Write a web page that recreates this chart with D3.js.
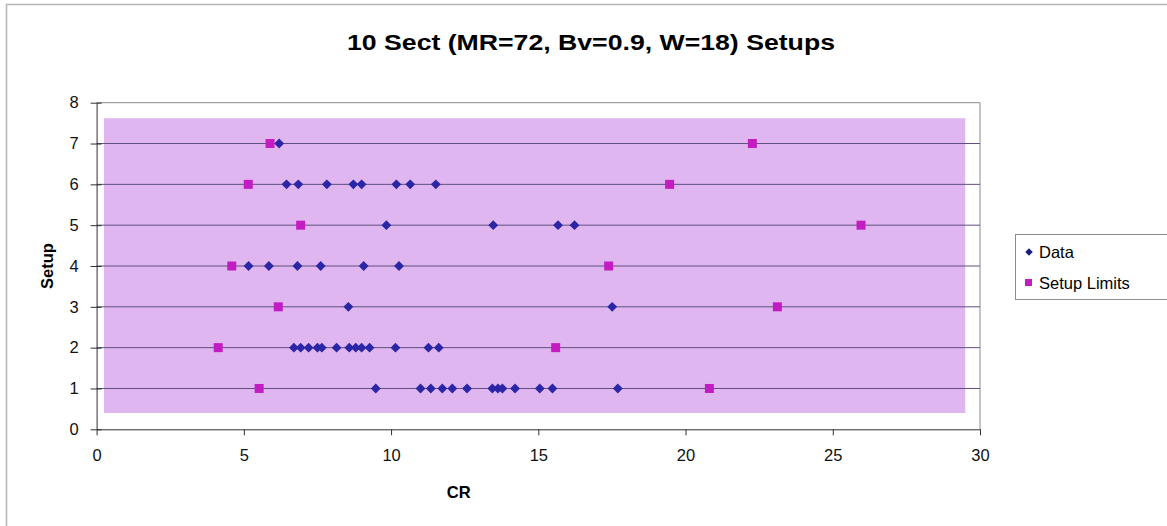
<!DOCTYPE html>
<html>
<head>
<meta charset="utf-8">
<script src="https://cdn.jsdelivr.net/npm/d3@7"></script>
<style>
  html, body { margin: 0; padding: 0; background: #ffffff; }
  svg { display: block; font-family: "Liberation Sans", Arial, sans-serif; }
</style>
</head>
<body>
<svg id="chart" width="1167" height="526"></svg>
<script>
// Setup number for each group of readings
const setups = [1, 2, 3, 4, 5, 6, 7];

// CR readings per setup ("Data")
const dataSetup1 = [9.48, 11.0, 11.35, 11.74, 12.08, 12.58, 13.44, 13.63, 13.78, 14.21, 15.05, 15.48, 17.7];
const dataSetup2 = [6.7, 6.93, 7.2, 7.5, 7.65, 8.15, 8.58, 8.8, 9.0, 9.27, 10.15, 11.27, 11.62];
const dataSetup3 = [8.55, 17.51];
const dataSetup4 = [5.16, 5.85, 6.82, 7.61, 9.07, 10.27];
const dataSetup5 = [9.84, 13.47, 15.67, 16.23];
const dataSetup6 = [6.45, 6.85, 7.82, 8.72, 9.0, 10.18, 10.65, 11.52];
const dataSetup7 = [6.2];

// Lower and upper CR limits per setup ("Setup Limits")
const limitLow  = [5.52, 4.13, 6.17, 4.59, 6.93, 5.15, 5.89];
const limitHigh = [20.81, 15.59, 23.12, 17.39, 25.96, 19.46, 22.27];

const xTicks = [0, 5, 10, 15, 20, 25, 30];
const yTicks = [0, 1, 2, 3, 4, 5, 6, 7, 8];

const titleText = "10 Sect (MR=72, Bv=0.9, W=18) Setups";
const xLabel = "CR";
const yLabel = "Setup";
const seriesNames = ["Data", "Setup Limits"];

const dataBySetup = [dataSetup1, dataSetup2, dataSetup3, dataSetup4, dataSetup5, dataSetup6, dataSetup7];
const dataPoints = setups.flatMap((s, i) => dataBySetup[i].map(v => ({ x: v, y: s })));
const limitPoints = setups.flatMap((s, i) => [{ x: limitLow[i], y: s }, { x: limitHigh[i], y: s }]);

const svg = d3.select("#chart");
const W = 1167, H = 526;
const plot = { left: 96.6, right: 980, top: 102.7, bottom: 429.3 };

const x = d3.scaleLinear().domain([0, 30]).range([plot.left, plot.right]);
const y = d3.scaleLinear().domain([0, 8]).range([plot.bottom, plot.top]);

// chart area frame
svg.append("rect")
  .attr("x", 6.5).attr("y", 4.5).attr("width", W + 20).attr("height", H + 20)
  .attr("fill", "#ffffff").attr("stroke", "#b4b4b4").attr("stroke-width", 1.5);

// shaded plot background
svg.append("rect")
  .attr("x", x(0.25)).attr("y", y(7.62))
  .attr("width", x(29.5) - x(0.25)).attr("height", y(0.4) - y(7.62))
  .attr("fill", "#e0b6f0");

// plot area border (top and right)
svg.append("path")
  .attr("d", `M${plot.left},${plot.top}H${plot.right}V${plot.bottom}`)
  .attr("fill", "none").attr("stroke", "#8a8a8a").attr("stroke-width", 1);

// horizontal gridlines
svg.append("g")
  .selectAll("line")
  .data(yTicks.filter(t => t > 0 && t < 8))
  .join("line")
  .attr("x1", plot.left).attr("x2", plot.right)
  .attr("y1", d => y(d)).attr("y2", d => y(d))
  .attr("stroke", "#5e5080").attr("stroke-width", 1);

// y axis with cross ticks
const yAxis = svg.append("g")
  .attr("transform", `translate(${plot.left},0)`)
  .call(d3.axisLeft(y).tickValues(yTicks).tickFormat(d3.format("d")).tickSizeInner(6).tickSizeOuter(0).tickPadding(12));
yAxis.selectAll(".tick line").attr("x2", 5).attr("x1", -6);
yAxis.select(".domain").attr("stroke", "#303030");
yAxis.selectAll(".tick line").attr("stroke", "#303030");
yAxis.selectAll("text").attr("font-size", 16.5).attr("fill", "#111").attr("font-family", "Liberation Sans, Arial, sans-serif");

// x axis
const xAxis = svg.append("g")
  .attr("transform", `translate(0,${plot.bottom})`)
  .call(d3.axisBottom(x).tickValues(xTicks).tickFormat(d3.format("d")).tickSizeInner(6).tickSizeOuter(0).tickPadding(14));
xAxis.select(".domain").attr("stroke", "#303030");
xAxis.selectAll(".tick line").attr("stroke", "#303030");
xAxis.selectAll("text").attr("font-size", 16.5).attr("fill", "#111").attr("font-family", "Liberation Sans, Arial, sans-serif");

// markers
const diamond = d3.symbol().type(d3.symbolDiamond2).size(62);
const colData = "#2a26a6";
const colLimit = "#c21cc2";

svg.append("g")
  .selectAll("path")
  .data(dataPoints)
  .join("path")
  .attr("d", diamond)
  .attr("transform", d => `translate(${x(d.x)},${y(d.y)})`)
  .attr("fill", colData);

svg.append("g")
  .selectAll("rect")
  .data(limitPoints)
  .join("rect")
  .attr("x", d => x(d.x) - 4.5).attr("y", d => y(d.y) - 4.5)
  .attr("width", 9).attr("height", 9)
  .attr("fill", colLimit);

// title and axis titles
svg.append("text")
  .attr("x", 591).attr("y", 50)
  .attr("text-anchor", "middle")
  .attr("font-size", 22).attr("font-weight", "bold").attr("fill", "#000")
  .attr("textLength", 488).attr("lengthAdjust", "spacingAndGlyphs")
  .text(titleText);

svg.append("text")
  .attr("x", x(12.3)).attr("y", 498)
  .attr("text-anchor", "middle")
  .attr("font-size", 16.5).attr("font-weight", "bold").attr("fill", "#000")
  .text(xLabel);

svg.append("text")
  .attr("transform", `translate(53,${y(4)}) rotate(-90)`)
  .attr("text-anchor", "middle")
  .attr("font-size", 16.5).attr("font-weight", "bold").attr("fill", "#000")
  .text(yLabel);

// legend
const lg = svg.append("g").attr("transform", "translate(1015,234)");
lg.append("rect")
  .attr("x", 0.5).attr("y", 0.5).attr("width", 170).attr("height", 65)
  .attr("fill", "#ffffff").attr("stroke", "#8c8c8c").attr("stroke-width", 1);
lg.append("path")
  .attr("d", d3.symbol().type(d3.symbolDiamond2).size(36))
  .attr("transform", "translate(14,18)")
  .attr("fill", "#1c1c80");
lg.append("rect")
  .attr("x", 10).attr("y", 45).attr("width", 7).attr("height", 7)
  .attr("fill", colLimit);
lg.append("text").attr("x", 24).attr("y", 24).attr("font-size", 16.5).attr("fill", "#000").text(seriesNames[0]);
lg.append("text").attr("x", 24).attr("y", 55).attr("font-size", 16.5).attr("fill", "#000").text(seriesNames[1]);
</script>
</body>
</html>
